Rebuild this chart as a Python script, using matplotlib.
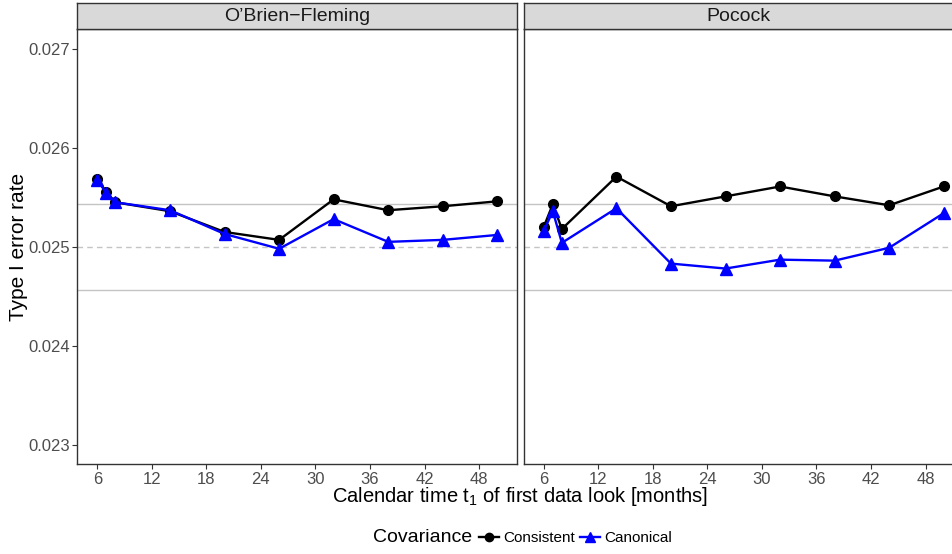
import matplotlib
matplotlib.use("Agg")
import matplotlib.pyplot as plt
from matplotlib.lines import Line2D
from matplotlib.patches import Rectangle

plt.rcParams['font.family'] = ['Liberation Sans', 'DejaVu Sans']
plt.rcParams['mathtext.default'] = 'regular'

# data
months = [6, 7, 8, 14, 20, 26, 32, 38, 44, 50]
obf_consistent = [0.02569, 0.02555, 0.02545, 0.02536, 0.02515, 0.02507, 0.02548, 0.02537, 0.02541, 0.02546]
obf_canonical = [0.02568, 0.02554, 0.02545, 0.02537, 0.02513, 0.02498, 0.02528, 0.02505, 0.02507, 0.02512]
poc_consistent = [0.02520, 0.02543, 0.02518, 0.02571, 0.02541, 0.02551, 0.02561, 0.02551, 0.02542, 0.02561]
poc_canonical = [0.02516, 0.02536, 0.02504, 0.02539, 0.02483, 0.02478, 0.02487, 0.02486, 0.02499, 0.02534]
panels = ['O’Brien−Fleming', 'Pocock']
nominal = 0.025
mc_band = [0.024567, 0.025433]
x_ticks = [6, 12, 18, 24, 30, 36, 42, 48]
y_ticks = [0.023, 0.024, 0.025, 0.026, 0.027]

W, H = 953, 554
fig = plt.figure(figsize=(W / 100, H / 100), dpi=100)

ax_w = 440 / W
ax_b = (H - 464.3) / H
ax_h = 435 / H
lefts = [77.3 / W, 523.7 / W]
strip_h = 26 / H

series = [(obf_consistent, obf_canonical), (poc_consistent, poc_canonical)]
edge = '#333333'

for i, (name, (cons, canon)) in enumerate(zip(panels, series)):
    ax = fig.add_axes([lefts[i], ax_b, ax_w, ax_h])
    for y in mc_band:
        ax.axhline(y, color='#c4c4c4', lw=1.0, zorder=1)
    ax.axhline(nominal, color='#c4c4c4', lw=1.0, ls=(0, (4, 3)), zorder=1)
    ax.plot(months, cons, color='black', lw=1.7, marker='o', ms=7, zorder=3)
    ax.plot(months, canon, color='#0000ff', lw=1.7, marker='^', ms=8, zorder=4)
    ax.set_xlim(3.8, 52.2)
    ax.set_ylim(0.0228, 0.0272)
    ax.set_xticks(x_ticks)
    ax.set_yticks(y_ticks)
    ax.set_yticklabels([f'{v:.3f}' for v in y_ticks])
    ax.tick_params(colors=edge, labelcolor='#4d4d4d', labelsize=12, length=3.5, width=0.8, pad=2)
    for s in ax.spines.values():
        s.set_color(edge)
        s.set_linewidth(1.0)
    if i == 1:
        ax.tick_params(left=False, labelleft=False)
    else:
        ax.set_ylabel('Type I error rate', fontsize=15)
        ax.yaxis.set_label_coords(-0.112, 0.5)

    # facet strip
    strip = fig.add_axes([lefts[i], ax_b + ax_h, ax_w, strip_h])
    strip.add_patch(Rectangle((0, 0), 1, 1, facecolor='#d9d9d9', edgecolor='none',
                              transform=strip.transAxes))
    strip.set_xticks([])
    strip.set_yticks([])
    for s in strip.spines.values():
        s.set_color(edge)
        s.set_linewidth(1.0)
    cx = lefts[i] + ax_w / 2 if i == 0 else (523.7 + (953 - 523.7) / 2) / W
    fig.text(cx, ax_b + ax_h + strip_h / 2, name, ha='center', va='center',
             fontsize=14, color='#1a1a1a')

fig.text((77.3 + 440 + 3) / W, (H - 497) / H,
         'Calendar time t$_1$ of first data look [months]',
         ha='center', va='center', fontsize=14.5)

# legend
fig.text(373 / W, (H - 538) / H, 'Covariance', ha='left', va='center', fontsize=14)
handles = [Line2D([], [], color='black', lw=1.7, marker='o', ms=6),
           Line2D([], [], color='#0000ff', lw=1.7, marker='^', ms=7)]
fig.legend(handles, ['Consistent', 'Canonical'], loc='center left',
           bbox_to_anchor=(479 / W, (H - 538) / H), ncol=2, frameon=False,
           fontsize=11, handlelength=1.3, handletextpad=0.3, columnspacing=0.3,
           borderaxespad=0, borderpad=0)

fig.savefig('out.png', dpi=100)
